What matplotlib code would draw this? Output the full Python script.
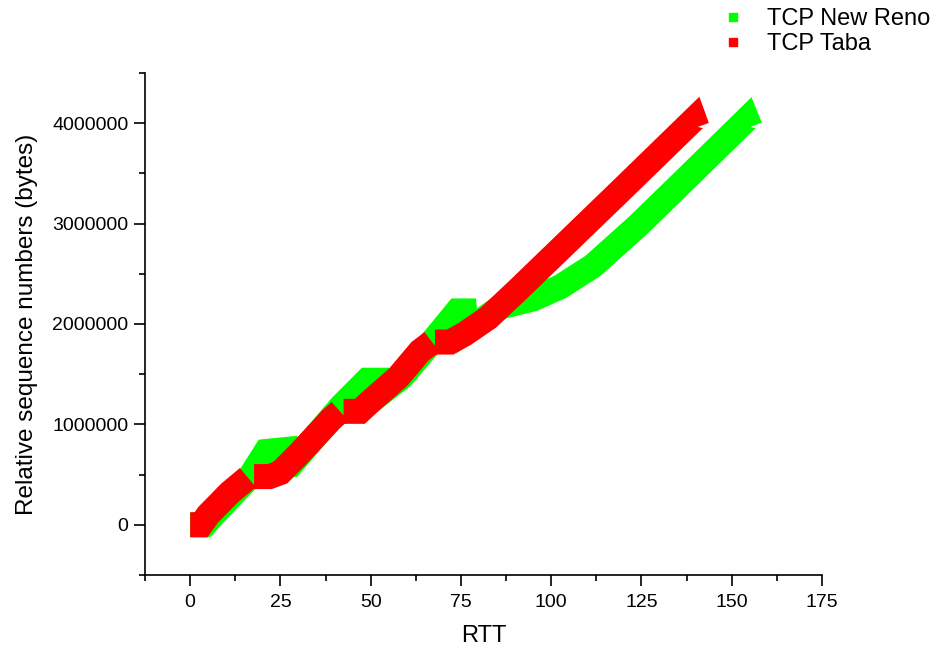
import matplotlib
matplotlib.use("Agg")
import matplotlib.pyplot as plt
from matplotlib.lines import Line2D
from matplotlib.ticker import MultipleLocator

# Data (NaN splits the trace where it jumps)
nan = float("nan")
reno_rtt = [0, 4, 7, 16.6, 21, 26.5, 26.8, 28, 41.8, 49, 52, 52.5, 58.6, 64.7, 67.6, 74, 76,
            76.5, 86, 95, 102.5, 111.6, 124, 138, 154.2, 155.1]
reno_seq = [0, 0, 120000, 480000, 730000, 750000, 600000, 600000, 1180000, 1440000, 1440000,
            1300000, 1470000, 1730000, 1850000, 2130000, 2130000, 1930000, 2170000, 2250000,
            2370000, 2580000, 2980000, 3470000, 4040000, 3960000]

taba_rtt = [0, 3, 5, 11, 16, nan, 17.7, 22, 25, 30.5, 39, 41.5, nan, 42.5, 47, 50, 57.6, 63.7, 67,
            nan, 67.8, 72, 76, 82.5, 90.5, 100, 119, 139.6, 140.4]
taba_seq = [0, 0, 100000, 320000, 470000, nan, 480000, 480000, 520000, 720000, 1050000, 1130000,
            nan, 1130000, 1130000, 1230000, 1470000, 1730000, 1820000, nan, 1820000, 1820000,
            1900000, 2060000, 2330000, 2660000, 3320000, 4040000, 3960000]

green = '#00ff00'
red = '#ff0000'

plt.rcParams['font.family'] = ['Liberation Sans', 'DejaVu Sans']

fig = plt.figure(figsize=(9.43, 6.47), dpi=100)
ax = fig.add_axes([0.1538, 0.1113, 0.7179, 0.7759])

ax.plot(reno_rtt, reno_seq, color=green, linewidth=18, solid_capstyle='butt', solid_joinstyle='miter')
ax.plot(taba_rtt, taba_seq, color=red, linewidth=18, solid_capstyle='butt', solid_joinstyle='miter')

ax.set_xlim(-12.5, 175)
ax.set_ylim(-500000, 4500000)
ax.xaxis.set_major_locator(MultipleLocator(25))
ax.xaxis.set_minor_locator(MultipleLocator(12.5))
ax.yaxis.set_major_locator(MultipleLocator(1000000))
ax.yaxis.set_minor_locator(MultipleLocator(500000))
ax.ticklabel_format(axis='y', style='plain', useOffset=False)

for s in ['top', 'right']:
    ax.spines[s].set_visible(False)
for s in ['left', 'bottom']:
    ax.spines[s].set_linewidth(1.2)

ax.tick_params(which='major', direction='out', length=8, width=1.2, labelsize=14, pad=4)
ax.tick_params(which='minor', direction='out', length=4, width=1.2)
ax.tick_params(axis='x', labelsize=14, pad=6)

ax.set_xlabel('RTT', fontsize=17, labelpad=10)
ax.set_ylabel('Relative sequence numbers (bytes)', fontsize=17.5, labelpad=10)

handles = [Line2D([], [], linestyle='none', marker='s', markersize=6, color=green),
           Line2D([], [], linestyle='none', marker='s', markersize=6, color=red)]
fig.legend(handles, ['TCP New Reno', 'TCP Taba'], loc='upper left',
           bbox_to_anchor=(0.7646, 0.9876), frameon=False, fontsize=17,
           handlelength=1.0, handletextpad=0.95, labelspacing=0.12,
           borderpad=0, borderaxespad=0)

fig.savefig('out.png', dpi=100)
